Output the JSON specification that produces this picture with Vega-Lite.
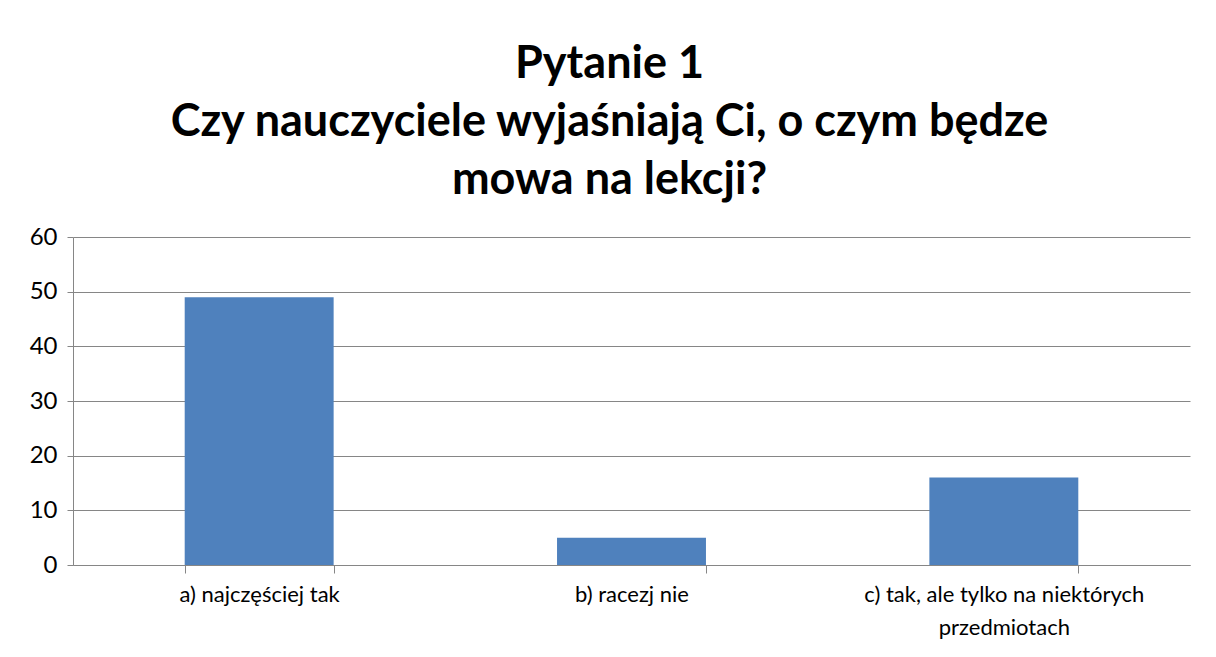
{
  "$schema": "https://vega.github.io/schema/vega-lite/v6.json",
  "width": 1117,
  "height": 328,
  "autosize": {"type": "none"},
  "padding": {"left": 73, "top": 237, "right": 26, "bottom": 92},
  "background": "white",
  "title": {
    "text": ["Pytanie 1", "Czy nauczyciele wyjaśniają Ci, o czym będze", "mowa na lekcji?"],
    "font": "Lato",
    "fontSize": 45,
    "fontWeight": "bold",
    "color": "#000000",
    "lineHeight": 58,
    "anchor": "middle",
    "frame": "group",
    "dx": -22,
    "offset": 22
  },
  "data": {
    "values": [
      {"odp": "a) najczęściej tak", "n": 49},
      {"odp": "b) racezj nie", "n": 5},
      {"odp": "c) tak, ale tylko na niektórych przedmiotach", "n": 16}
    ]
  },
  "mark": {"type": "bar", "color": "#4F81BD"},
  "encoding": {
    "x": {
      "field": "odp",
      "type": "nominal",
      "sort": null,
      "scale": {"paddingInner": 0.6, "paddingOuter": 0.3},
      "axis": {
        "title": null,
        "labelAngle": 0,
        "labelFont": "Lato",
        "labelFontSize": 22,
        "labelColor": "#000000",
        "labelPadding": 11,
        "labelLineHeight": 33,
        "labelLimit": 500,
        "labelExpr": "datum.value == 'c) tak, ale tylko na niektórych przedmiotach' ? ['c) tak, ale tylko na niektórych', 'przedmiotach'] : datum.value",
        "tickBand": "extent",
        "tickSize": 8,
        "tickColor": "#868686",
        "domainColor": "#868686",
        "grid": false
      }
    },
    "y": {
      "field": "n",
      "type": "quantitative",
      "scale": {"domain": [0, 60], "nice": false},
      "axis": {
        "title": null,
        "values": [0, 10, 20, 30, 40, 50, 60],
        "labelFont": "Lato",
        "labelFontSize": 24,
        "labelColor": "#000000",
        "labelPadding": 10,
        "tickSize": 6,
        "tickColor": "#868686",
        "domainColor": "#868686",
        "gridColor": "#868686",
        "gridWidth": 1
      }
    }
  },
  "config": {"view": {"stroke": null}}
}
